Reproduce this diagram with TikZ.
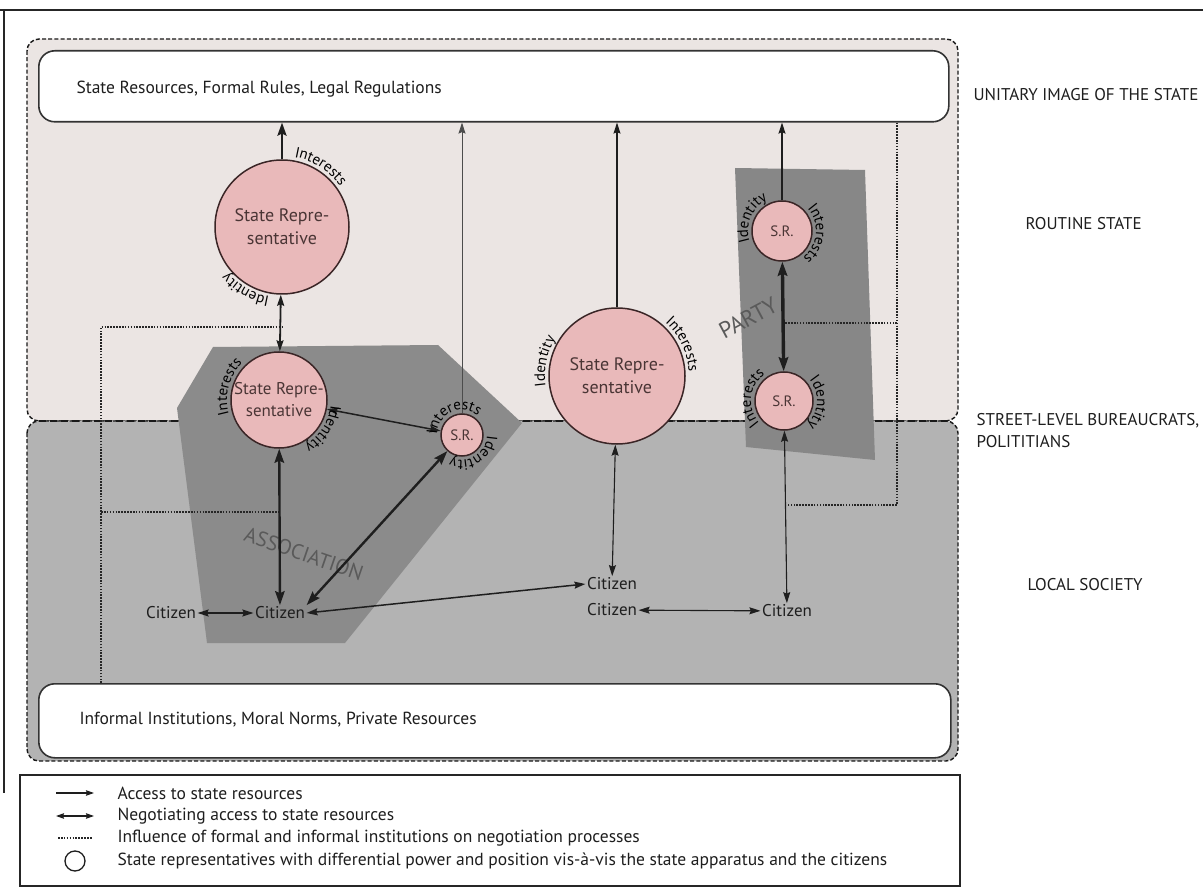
\documentclass[tikz,border=0pt]{standalone}
\usepackage{fontspec}
\setmainfont{PT Sans}
\usetikzlibrary{arrows.meta,decorations.text,calc}

\definecolor{upperfill}{HTML}{EBE5E3}
\definecolor{lowerfill}{HTML}{B3B3B3}
\definecolor{groupfill}{HTML}{8B8B8B}
\definecolor{srfill}{HTML}{E9B9BA}
\definecolor{srline}{HTML}{3A2526}
\definecolor{srtext}{HTML}{4A3535}
\definecolor{ink}{HTML}{1E1E1E}
\definecolor{grouptext}{HTML}{5A5A5A}

% font used for the curved labels around the circles
\newcommand\curvedfont{\fontsize{15}{15}\selectfont}

% curved label around a circle: node, radius, start angle, end angle, text
\newcommand\arclabel[5]{%
  \path[decorate, decoration={text along path, text align=left,
        text={|\curvedfont|#5}}]
    (#1.center) ++(#3:#2) arc[start angle=#3, end angle=#4, radius=#2];}

\tikzset{
  region/.style={rounded corners=12pt, line width=1.4pt,
                 dash pattern=on 4pt off 2.2pt, draw=black!90},
  divider/.style={line width=2.6pt, dash pattern=on 7pt off 4pt, draw=black!90},
  resbox/.style={draw=black!80, line width=1.6pt, rounded corners=16pt, fill=white},
  srnode/.style={circle, draw=srline, line width=1.5pt, fill=srfill,
                 inner sep=0pt, text=srtext, align=center},
  bigsr/.style={srnode, minimum size=134pt,
                font=\fontsize{18}{23}\selectfont},
  midsr/.style={srnode, minimum size=96pt,
                font=\fontsize{17}{22}\selectfont},
  smallsr/.style={srnode, font=\fontsize{15}{15}\selectfont},
  citizen/.style={inner sep=1.5pt, text=ink, font=\fontsize{17}{17}\selectfont},
  acc/.style={-{Stealth[length=11pt, width=7pt, inset=1.5pt]}, line width=1.2pt, draw=ink},
  neg/.style={{Stealth[length=11pt, width=7pt, inset=1.5pt]}-{Stealth[length=11pt, width=7pt, inset=1.5pt]},
              line width=1.2pt, draw=ink},
  negbig/.style={{Stealth[length=14pt, width=9.5pt, inset=2pt]}-{Stealth[length=14pt, width=9.5pt, inset=2pt]},
                 line width=2.4pt, draw=ink},
  infl/.style={line width=1.3pt, dash pattern=on 1.6pt off 1.3pt, draw=black!85},
  levellabel/.style={anchor=west, text=ink, font=\fontsize{17}{22}\selectfont, align=left},
  legendtext/.style={anchor=west, text=ink, font=\fontsize{17.5}{17.5}\selectfont},
  boxtext/.style={anchor=west, text=ink, font=\fontsize{17.5}{17.5}\selectfont},
  grouplabel/.style={text=grouptext, font=\fontsize{21}{21}\selectfont}
}

\begin{document}
\begin{tikzpicture}[x=1pt, y=1pt]
\useasboundingbox (0,0) rectangle (1203,-893);
\fill[white] (0,0) rectangle (1203,-893);

% frame
\draw[line width=1.8pt, black!85] (0,-10) -- (1203,-10);
\draw[line width=1.8pt, black!85] (4,-10) -- (4,-793);

% the two levels: routine state and local society
\draw[region, fill=upperfill] (27,-39) rectangle (958,-421);
\draw[region, fill=lowerfill] (27,-421) rectangle (958,-761);
\draw[divider] (39,-421) -- (946,-421);

% formal and informal resources
\node[resbox, anchor=north west, minimum width=910pt, minimum height=71pt] (rules) at (38,-50) {};
\node[boxtext] (rulestext) at (73,-89)
  {State Resources, Formal Rules, Legal Regulations};
\node[resbox, anchor=north west, minimum width=912pt, minimum height=74pt] (informal) at (38,-683) {};
\node[boxtext] (informaltext) at (76,-720)
  {Informal Institutions, Moral Norms, Private Resources};

% association and party
\fill[groupfill] (213,-347) -- (438,-345) -- (522,-423) -- (345,-643)
  -- (207,-643) -- (177,-408) -- cycle;
\fill[groupfill!97!black] (735,-168) -- (865,-170) -- (875,-460) -- (746,-447) -- cycle;
\node[grouplabel, rotate=-19] (assoc) at (304,-554) {ASSOCIATION};
\node[grouplabel, rotate=28, font=\fontsize{23}{23}\selectfont] (party) at (748,-318) {PARTY};

% state representatives
\node[bigsr] (sr1) at (282,-227) {State Repre-\\sentative};
\node[midsr] (sr2) at (279,-400) {State Repre-\\sentative};
\node[smallsr, minimum size=42pt] (sr4) at (462,-435) {S.R.};
\node[bigsr, minimum size=136pt] (sr3) at (617,-376) {State Repre-\\sentative};
\node[smallsr, minimum size=60pt] (sr5) at (782,-231) {S.R.};
\node[smallsr, minimum size=58pt] (sr6) at (784,-401) {S.R.};

% citizens
\node[citizen] (c1) at (171,-613) {Citizen};
\node[citizen] (c2) at (280,-613) {Citizen};
\node[citizen] (c3) at (612,-584) {Citizen};
\node[citizen] (c4) at (612,-610) {Citizen};
\node[citizen] (c5) at (787,-611) {Citizen};

% influence of institutions
\coordinate (il1) at (101,-327);
\coordinate (il2) at (284,-327);
\coordinate (il3) at (101,-512);
\coordinate (il4) at (279,-512);
\draw[infl] (il1 |- informal.north) -- (il1) -- (il2);
\draw[infl] (il3) -- (il4);
\coordinate (ir1) at (897,-505);
\coordinate (ir2) at (784,-505);
\coordinate (ir3) at (897,-323);
\coordinate (ir4) at (784,-323);
\draw[infl] (ir1 |- rules.south) -- (ir1) -- (ir2);
\draw[infl] (ir3) -- (ir4);

% access and negotiation
\draw[acc, line width=2.4pt, -{Stealth[length=13pt, width=9pt, inset=2pt]}] (sr1) -- (sr1 |- rules.south);
\draw[neg, line width=1.8pt] (sr1) -- (sr2);
\draw[negbig] (sr2) -- (c2);
\draw[acc, line width=0.9pt, draw=black!70] (sr4) -- (sr4 |- rules.south);
\draw[neg, line width=1.5pt] (sr2) -- (sr4);
\draw[negbig] (c2.north east) -- (sr4);
\draw[neg] (c1) -- (c2);
\draw[neg, line width=1.5pt] (c2.east) -- (c3.west);
\draw[acc, line width=1.1pt] (sr3) -- (sr3 |- rules.south);
\draw[neg, line width=1.1pt] (sr3) -- (c3);
\draw[neg, line width=1.1pt] (c4) -- (c5);
\draw[acc, line width=1.5pt] (sr5) -- (sr5 |- rules.south);
\draw[negbig, line width=3.4pt] (sr5) -- (sr6);
\draw[neg, line width=1.1pt] (sr6) -- (c5);

% interests and identity around the representatives
\arclabel{sr1}{71}{80}{10}{Interests}
\arclabel{sr1}{71}{260}{180}{Identity}
\arclabel{sr2}{52}{196}{90}{Interests}
\arclabel{sr2}{52}{-6}{-110}{Identity}
\arclabel{sr4}{25}{178}{5}{Interests}
\arclabel{sr4}{25}{-2}{-160}{Identity}
\arclabel{sr3}{72}{188}{100}{Identity}
\arclabel{sr3}{72}{48}{-40}{Interests}
\arclabel{sr5}{34}{198}{60}{Identity}
\arclabel{sr5}{34}{42}{-110}{Interests}
\arclabel{sr6}{33}{222}{75}{Interests}
\arclabel{sr6}{33}{40}{-100}{Identity}

% levels
\node[levellabel] (lvl1) at (970,-95) {UNITARY IMAGE OF THE STATE};
\node[levellabel] (lvl2) at (1022,-224) {ROUTINE STATE};
\node[levellabel] (lvl3) at (973,-431) {STREET-LEVEL BUREAUCRATS,\\POLITITIANS};
\node[levellabel] (lvl4) at (1024,-585) {LOCAL SOCIETY};

% legend
\draw[line width=1.5pt, black!85] (20,-775) rectangle (960,-886);
\coordinate (k1a) at (56,-793);  \coordinate (k1b) at (94,-793);
\coordinate (k2a) at (56,-816);  \coordinate (k2b) at (94,-816);
\coordinate (k3a) at (58,-838);  \coordinate (k3b) at (92,-838);
\draw[line width=1.3pt, draw=ink, -{Stealth[length=8pt, width=5.5pt, inset=1pt]}] (k1a) -- (k1b);
\draw[line width=1.3pt, draw=ink, {Stealth[length=8pt, width=5.5pt, inset=1pt]}-{Stealth[length=8pt, width=5.5pt, inset=1pt]}] (k2a) -- (k2b);
\draw[infl] (k3a) -- (k3b);
\node[circle, draw=ink, line width=1.3pt, minimum size=20pt, inner sep=0pt] (k4) at (75,-861) {};
\node[legendtext] (t1) at (114,-793) {Access to state resources};
\node[legendtext] (t2) at (114,-816) {Negotiating access to state resources};
\node[legendtext] (t3) at (114,-838) {Influence of formal and informal institutions on negotiation processes};
\node[legendtext] (t4) at (114,-861) {State representatives with differential power and position vis-à-vis the state apparatus and the citizens};
\end{tikzpicture}
\end{document}
